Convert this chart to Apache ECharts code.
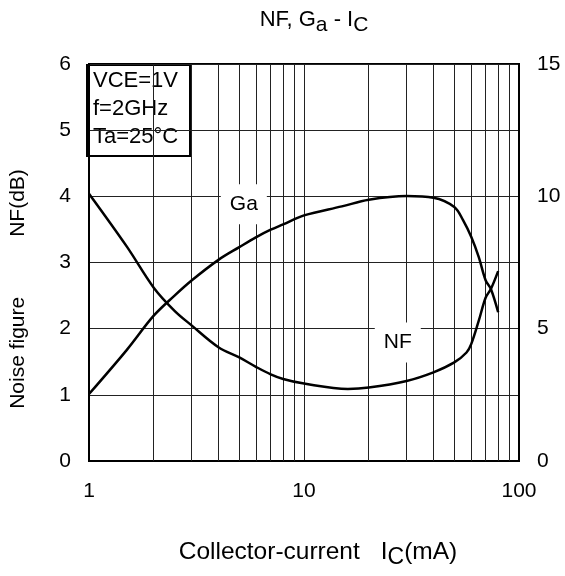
<!DOCTYPE html>
<html>
<head>
<meta charset="utf-8">
<script src="https://cdn.jsdelivr.net/npm/echarts@6/dist/echarts.min.js"></script>
<style>
  html, body { margin: 0; padding: 0; background: #fff; }
  #chart { width: 565px; height: 576px; }
</style>
</head>
<body>
<div id="chart"></div>
<script>
// collector current (mA), log scale
var icNF = [1, 1.5, 2, 2.5, 3, 4, 5, 6, 7, 8, 10, 16, 20, 30, 40, 50, 57, 60, 65, 70, 74, 80];
// noise figure NF (dB), left axis
var nfValues = [4.04, 3.24, 2.62, 2.27, 2.05, 1.72, 1.565, 1.42, 1.31, 1.24, 1.17, 1.09, 1.11, 1.21, 1.34, 1.49, 1.64, 1.77, 2.12, 2.47, 2.6, 2.87];

var icGa = [1, 1.5, 2, 2.5, 3, 4, 5, 6, 7, 8, 10, 15, 20, 30, 40, 50, 55, 60, 65, 70, 74, 80];
// associated gain Ga (dB), right axis
var gaValues = [2.53, 4.2, 5.49, 6.25, 6.82, 7.6, 8.08, 8.46, 8.74, 8.94, 9.28, 9.62, 9.87, 10.01, 9.95, 9.6, 9.09, 8.46, 7.7, 6.82, 6.5, 5.62];

// minor grid lines of the log axis
var minorGrid = [2, 3, 4, 5, 6, 7, 8, 9, 20, 30, 40, 50, 60, 70, 80, 90];

var conditions = ["VCE=1V", "f=2GHz", "Ta=25°C"];

var font = "Liberation Sans, Arial, sans-serif";

function pairs(xs, ys) {
    var out = [];
    for (var i = 0; i < xs.length; i++) {
        out.push([xs[i], ys[i]]);
    }
    return out;
}

var chart = echarts.init(document.getElementById("chart"));

var option = {
    animation: false,
    backgroundColor: "#fff",
    title: {
        text: "{m|NF, G}{sub|a}{m| - I}{sub|C}",
        left: 309,
        top: 4,
        textAlign: "center",
        textStyle: {
            fontFamily: font,
            fontSize: 22,
            fontWeight: "normal",
            color: "#000",
            rich: {
                m: { fontFamily: font, fontSize: 22, color: "#000", lineHeight: 22, verticalAlign: "top" },
                sub: { fontFamily: font, fontSize: 21, color: "#000", lineHeight: 22, verticalAlign: "top", padding: [6, 0, 0, 0] }
            }
        }
    },
    grid: {
        left: 86,
        right: 46,
        top: 64,
        bottom: 115,
        show: true,
        borderColor: "#000",
        borderWidth: 2,
        backgroundColor: "transparent"
    },
    xAxis: {
        type: "log",
        logBase: 10,
        min: 1,
        max: 100,
        name: "{m|Collector-current}{g|}{m|I}{sub|C}{m|(mA)}",
        nameLocation: "middle",
        nameGap: 79,
        nameTextStyle: {
            fontFamily: font,
            fontSize: 24.5,
            color: "#000",
            padding: [0, 0, 0, 28],
            rich: {
                m: { fontFamily: font, fontSize: 24.5, color: "#000", lineHeight: 25, verticalAlign: "top" },
                g: { width: 21, lineHeight: 25 },
                sub: { fontFamily: font, fontSize: 23, color: "#000", lineHeight: 25, verticalAlign: "top", padding: [6, 0, 0, 0] }
            }
        },
        axisLine: { show: true, lineStyle: { color: "#000", width: 2 } },
        axisTick: { show: false },
        axisLabel: { fontFamily: font, fontSize: 21, color: "#000", margin: 20 },
        splitLine: { show: true, lineStyle: { color: "#222", width: 1 } }
    },
    yAxis: [
        {
            type: "value",
            min: 0,
            max: 6,
            interval: 1,
            name: "Noise figure{g|}NF(dB)",
            nameLocation: "middle",
            nameGap: 60,
            nameTextStyle: {
                fontFamily: font,
                fontSize: 21,
                color: "#000",
                padding: [0, 53, 0, 0],
                rich: {
                    g: { width: 60 }
                }
            },
            axisLine: { show: true, lineStyle: { color: "#000", width: 2 } },
            axisTick: { show: false },
            axisLabel: { fontFamily: font, fontSize: 21, color: "#000", margin: 18 },
            splitLine: { show: true, lineStyle: { color: "#222", width: 1 } }
        },
        {
            type: "value",
            min: 0,
            max: 15,
            interval: 5,
            position: "right",
            axisLine: { show: true, lineStyle: { color: "#000", width: 2 } },
            axisTick: { show: false },
            axisLabel: { fontFamily: font, fontSize: 21, color: "#000", margin: 18 },
            splitLine: { show: false }
        }
    ],
    series: [
        {
            name: "grid",
            type: "line",
            data: [],
            z: 1,
            markLine: {
                silent: true,
                symbol: ["none", "none"],
                label: { show: false },
                lineStyle: { color: "#222", width: 1, type: "solid" },
                data: minorGrid.map(function (v) { return { xAxis: v }; })
            }
        },
        {
            name: "NF",
            type: "line",
            yAxisIndex: 0,
            smooth: 0.35,
            symbol: "none",
            lineStyle: { color: "#000", width: 2.5 },
            data: pairs(icNF, nfValues),
            z: 5
        },
        {
            name: "Ga",
            type: "line",
            yAxisIndex: 1,
            smooth: 0.35,
            symbol: "none",
            lineStyle: { color: "#000", width: 2.5 },
            data: pairs(icGa, gaValues),
            z: 5
        },
        {
            name: "labels",
            type: "scatter",
            yAxisIndex: 0,
            symbolSize: 1,
            itemStyle: { color: "#fff", opacity: 1 },
            z: 10,
            label: {
                show: true,
                position: "inside",
                formatter: function (p) { return p.data[2]; },
                fontFamily: font,
                fontSize: 21,
                color: "#000",
                opacity: 1,
                textBorderWidth: 0,
                backgroundColor: "#fff",
                padding: [10, 9, 9, 9]
            },
            data: [[5.25, 3.88, "Ga"], [27.3, 1.79, "NF"]]
        }
    ],
    graphic: [
        {
            type: "group",
            left: 86,
            top: 64,
            z: 100,
            children: [
                {
                    type: "rect",
                    shape: { x: 0, y: 0, width: 103, height: 91 },
                    style: { fill: "#fff", stroke: "#000", lineWidth: 2 }
                }
            ].concat(conditions.map(function (t, i) {
                return {
                    type: "text",
                    x: 6,
                    y: 16 + i * 28,
                    style: {
                        text: t,
                        fontFamily: font,
                        fontSize: 22,
                        fill: "#000",
                        textVerticalAlign: "middle"
                    }
                };
            }))
        }
    ]
};

chart.setOption(option);
</script>
</body>
</html>
